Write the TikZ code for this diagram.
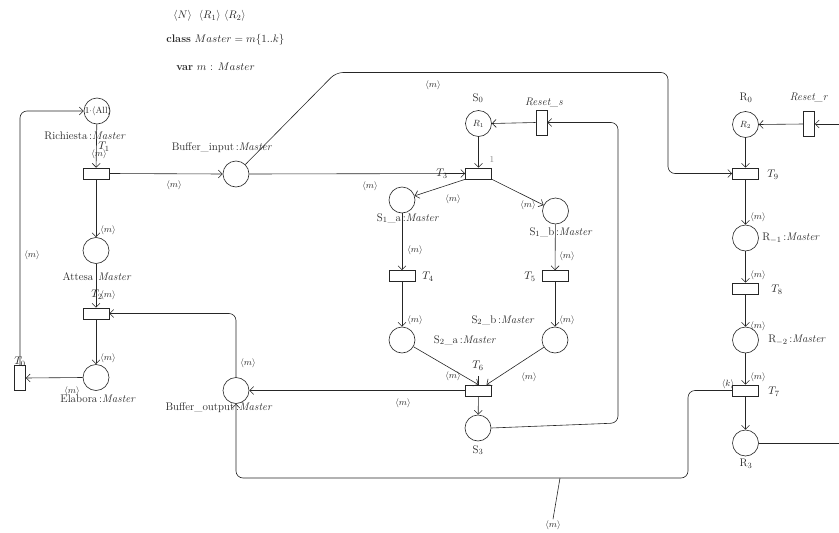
\documentclass[tikz,border=0pt]{standalone}
\usetikzlibrary{arrows.meta}
\begin{document}
\begin{tikzpicture}[x=1pt,y=-1pt,
  line width=0.6pt,
  color=black!85,
  place/.style={circle,draw,fill=white,minimum size=26pt,inner sep=0pt},
  trans/.style={rectangle,draw,fill=white,minimum width=26pt,minimum height=11pt,inner sep=0pt},
  vtrans/.style={rectangle,draw,fill=white,minimum width=11pt,minimum height=25pt,inner sep=0pt},
  arc/.style={-{Straight Barb[length=4pt,width=8pt]}},
  lbl/.style={inner sep=1pt,font=\fontsize{11}{13}\selectfont},
  alab/.style={font=\fontsize{9.5}{11}\selectfont,inner sep=1pt},
  edge/.style={rounded corners=7pt}]
\useasboundingbox (0,0) rectangle (839,533);

% declarations
\node[anchor=west,lbl] (d1) at (172,16) {$\langle N\rangle$\ \ $\langle R_1\rangle$ $\langle R_2\rangle$};
\node[anchor=west,lbl] (d2) at (165,40) {\textbf{class} $Master=m\{1..k\}$};
\node[anchor=west,lbl] (d3) at (175,67) {\textbf{var} $m$ : $Master$};

% places
\node[place] (rich) at (97,111) {};
\node[font=\small,inner sep=0pt] (richtok) at (98,111) {$1{\cdot}\langle\mathrm{All}\rangle$};
\node[place] (bin) at (236,174) {};
\node[place] (S0) at (478.5,123.5) {\small $R_1$};
\node[place] (s1a) at (402,200) {};
\node[place] (s1b) at (555.5,211) {};
\node[place] (s2a) at (402,340) {};
\node[place] (s2b) at (555,340) {};
\node[place] (s3) at (478,428) {};
\node[place] (bout) at (236,390.5) {};
\node[place] (attesa) at (96,250.5) {};
\node[place] (elab) at (96,377.5) {};
\node[place] (R0) at (745.5,124.5) {\small $R_2$};
\node[place] (r1) at (745.5,238) {};
\node[place] (r2) at (745.5,340) {};
\node[place] (r3) at (745.5,443) {};

% transitions
\node[trans] (T1) at (96,173.5) {};
\node[trans] (T2) at (96,313.5) {};
\node[vtrans] (T0) at (20,378) {};
\node[trans] (T3) at (478.5,173.5) {};
\node[vtrans] (Rs) at (541.5,122.5) {};
\node[trans] (T4) at (402,276) {};
\node[trans] (T5) at (555,276) {};
\node[trans] (T6) at (478.5,390.5) {};
\node[vtrans] (Rr) at (809,124) {};
\node[trans] (T9) at (745.5,173.5) {};
\node[trans] (T8) at (745.5,288.5) {};
\node[trans] (T7) at (745.5,390.5) {};

% free ends
\coordinate (e1) at (839,124);
\coordinate (e2) at (839,443);
\coordinate (bA) at (336,72.5);
\coordinate (bB) at (668,72.5);
\coordinate (bC) at (668,173.5);
\coordinate (sA) at (618,423);
\coordinate (kA) at (688,478);
\coordinate (pinA) at (560,478);
\coordinate (t6tick) at (478.5,376);

% connectors
\draw[arc,edge] (T0.north) |- (rich.west);
\draw[arc] (rich) -- (T1);
\draw[arc] (T1.east) -- (bin.west);
\draw[arc,edge] (bin) -- (bA) -- (bB) -- (bC) -- (T9.west);
\draw[arc] (bin.east) -- (T3.west);
\draw[arc] (S0) -- (T3);
\draw[arc] (Rs.west) -- (S0.east);
\draw[arc,edge] (s3.east) -- (sA) |- (Rs.east);
\draw[arc] (T3.south west) -- (s1a);
\draw[arc] (T3.south east) -- (s1b);
\draw[arc] (s1a) -- (T4);
\draw[arc] (T4) -- (s2a);
\draw[arc] (s1b) -- (T5);
\draw[arc] (T5) -- (s2b);
\draw[arc] (s2a) -- (T6.north);
\draw[arc] (s2b) -- ([xshift=8pt]T6.north);
\draw (T6.north) -- (t6tick);
\draw[arc] (T6.west) -- (bout.east);
\draw[arc] (T6) -- (s3);
\draw[arc,edge] (bout.north) |- (T2.east);
\draw[arc] (T1) -- (attesa);
\draw[arc] (attesa) -- (T2);
\draw[arc] (T2) -- (elab);
\draw[arc] (elab.west) -- (T0.east);
\draw[arc,edge] (T7.west) -| (kA) -| (bout.south);
\draw[arc] (Rr.west) -- (R0.east);
\draw[arc] (e1) -- (Rr.east);
\draw[arc] (R0) -- (T9);
\draw[arc] (T9) -- (r1);
\draw[arc] (r1) -- (T8);
\draw[arc] (T8) -- (r2);
\draw[arc] (r2) -- (T7);
\draw[arc] (T7) -- (r3);
\draw (r3.east) -- (e2);

% place / transition labels
\node[lbl] (lrich) at (85,136) {Richiesta\,:\textit{Master}};
\node[lbl] (lbin) at (222,148) {Buffer\_input\,:\textit{Master}};
\node[lbl] (lS0) at (478,98) {S$_0$};
\node[lbl] (lRs) at (544,103) {\textit{Reset\_s}};
\node[lbl] (ls1a) at (408,218) {S$_1$\_a\,:\textit{Master}};
\node[lbl] (ls1b) at (561,232) {S$_1$\_b\,:\textit{Master}};
\node[lbl] (ls2a) at (465,340) {S$_2$\_a\,:\textit{Master}};
\node[lbl] (ls2b) at (503,320) {S$_2$\_b\,:\textit{Master}};
\node[lbl] (ls3) at (478,450) {S$_3$};
\node[lbl] (lbout) at (219,408) {Buffer\_output\,:\textit{Master}};
\node[lbl] (latt) at (97,277) {Attesa\,:\textit{Master}};
\node[lbl] (lelab) at (98,399) {Elabora\,:\textit{Master}};
\node[lbl] (lR0) at (746,98) {R$_0$};
\node[lbl] (lRr) at (809,98) {\textit{Reset\_r}};
\node[lbl,anchor=west] (lr1) at (761,238) {R$_{-1}$\,:\textit{Master}};
\node[lbl,anchor=west] (lr2) at (767,340) {R$_{-2}$\,:\textit{Master}};
\node[lbl] (lr3) at (746,464) {R$_3$};

\node[lbl] (lT0) at (20,362) {$T_0$};
\node[lbl] (lT1) at (104,147) {$T_1$};
\node[lbl] (lT2) at (97,295) {$T_2$};
\node[lbl] (lT3) at (442,174) {$T_3$};
\node[lbl] (lT4) at (428,277) {$T_4$};
\node[lbl] (lT5) at (530,277) {$T_5$};
\node[lbl] (lT6) at (478,366) {$T_6$};
\node[lbl] (lT7) at (774,392) {$T_7$};
\node[lbl] (lT8) at (777,290) {$T_8$};
\node[lbl] (lT9) at (773,175) {$T_9$};

% arc labels
\node[alab] (a1) at (99,154) {$\langle m\rangle$};
\node[alab] (a2) at (174,185) {$\langle m\rangle$};
\node[alab] (a3) at (108,230) {$\langle m\rangle$};
\node[alab] (a4) at (108,295) {$\langle m\rangle$};
\node[alab] (a5) at (108,358) {$\langle m\rangle$};
\node[alab] (a6) at (72,391) {$\langle m\rangle$};
\node[alab] (a7) at (32,255) {$\langle m\rangle$};
\node[alab] (a8) at (433,85) {$\langle m\rangle$};
\node[alab] (a9) at (370,186) {$\langle m\rangle$};
\node[alab] (a10) at (453,199) {$\langle m\rangle$};
\node[alab] (a11) at (528,205) {$\langle m\rangle$};
\node[alab] (a12) at (415,250) {$\langle m\rangle$};
\node[alab] (a13) at (567,256) {$\langle m\rangle$};
\node[alab] (a14) at (415,320) {$\langle m\rangle$};
\node[alab] (a15) at (567,320) {$\langle m\rangle$};
\node[alab] (a16) at (453,376) {$\langle m\rangle$};
\node[alab] (a17) at (529,377) {$\langle m\rangle$};
\node[alab] (a18) at (403,403) {$\langle m\rangle$};
\node[alab] (a19) at (248,363) {$\langle m\rangle$};
\node[alab] (a20) at (758,217) {$\langle m\rangle$};
\node[alab] (a21) at (758,275) {$\langle m\rangle$};
\node[alab] (a22) at (758,326) {$\langle m\rangle$};
\node[alab] (a23) at (758,377) {$\langle m\rangle$};
\node[alab] (a24) at (728,384) {$\langle k\rangle$};
\node[alab] (a25) at (553,525) {$\langle m\rangle$};
\draw (pinA) -- (a25.north);
\node[font=\small,text=black!50] (one) at (492,160) {1};
\end{tikzpicture}
\end{document}
